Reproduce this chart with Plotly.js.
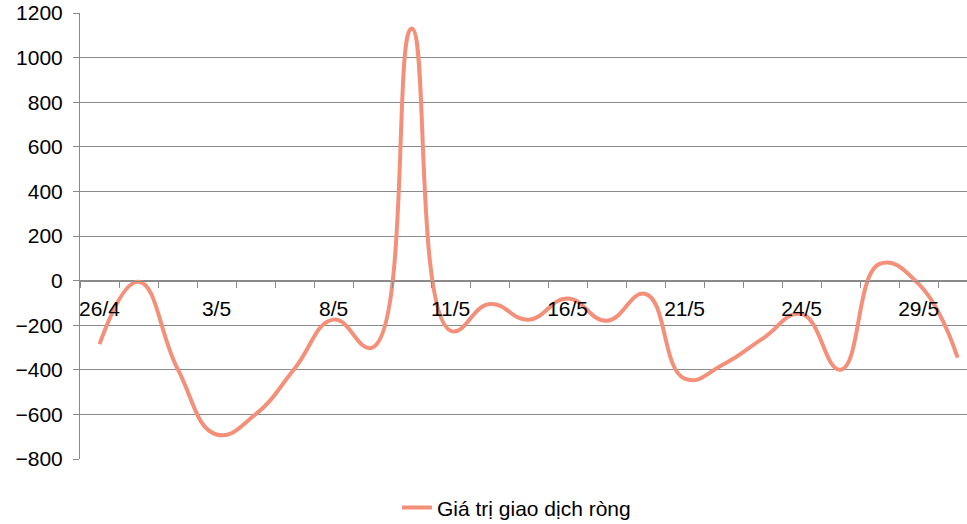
<!DOCTYPE html>
<html>
<head>
<meta charset="utf-8">
<script src="https://cdn.plot.ly/plotly-3.0.1.min.js"></script>
<style>
  html, body { margin: 0; padding: 0; background: #ffffff; }
  #chart { width: 967px; height: 524px; }
</style>
</head>
<body>
<div id="chart"></div>
<script>
// Trading days (category labels)
var dates = ['26/4','27/4','2/5','3/5','4/5','7/5','8/5','9/5','10/5','11/5','14/5','15/5',
             '16/5','17/5','18/5','21/5','22/5','23/5','24/5','25/5','28/5','29/5','30/5'];
// Net trading value (Giá trị giao dịch ròng)
var netValues = [-285, -5, -395, -690, -600, -395, -175, -300, 1130, -225, -105, -175,
                 -80, -180, -60, -440, -375, -260, -150, -400, 75, -15, -345];
// Dates that carry a visible tick label
var labelledDates = ['26/4','3/5','8/5','11/5','16/5','21/5','24/5','29/5'];
var seriesName = 'Giá trị giao dịch ròng';

var xIdx = dates.map(function (d, i) { return i; });
var tickVals = labelledDates.map(function (d) { return dates.indexOf(d); });

var FONT = 'Liberation Sans, Arial, sans-serif';
var GRID = '#8a8a8a';

var trace = {
  type: 'scatter',
  mode: 'lines',
  name: seriesName,
  x: xIdx,
  y: netValues,
  line: { color: '#F4907A', width: 4, shape: 'spline', smoothing: 1.3 },
  hoverinfo: 'x+y'
};

var layout = {
  width: 967,
  height: 524,
  margin: { l: 80, r: 0, t: 13, b: 65, pad: 0, autoexpand: false },
  paper_bgcolor: '#ffffff',
  plot_bgcolor: '#ffffff',
  font: { family: FONT, size: 21, color: '#000000' },
  showlegend: true,
  legend: {
    orientation: 'h',
    xref: 'container', yref: 'container',
    x: 0.4105, xanchor: 'left',
    y: 0.031, yanchor: 'middle',
    font: { family: FONT, size: 21, color: '#000000' },
    bgcolor: 'rgba(0,0,0,0)'
  },
  xaxis: {
    type: 'linear',
    range: [-0.5, 22.24],
    anchor: 'free',
    position: 0.4,
    showgrid: false,
    zeroline: false,
    showline: true,
    linecolor: GRID,
    linewidth: 1,
    tickmode: 'array',
    tickvals: tickVals,
    ticktext: labelledDates,
    ticks: 'outside',
    ticklen: 9,
    tickcolor: 'rgba(0,0,0,0)',
    tickfont: { family: FONT, size: 21, color: '#000000' },
    minor: { tick0: -0.5, dtick: 1, ticks: 'outside', ticklen: 6, tickcolor: GRID, tickwidth: 1, showgrid: false },
    fixedrange: true
  },
  yaxis: {
    range: [-800, 1200],
    dtick: 200,
    tick0: 0,
    showgrid: true,
    gridcolor: GRID,
    gridwidth: 1,
    zeroline: false,
    showline: true,
    linecolor: GRID,
    linewidth: 1,
    ticks: 'outside',
    ticklen: 6,
    tickcolor: GRID,
    tickfont: { family: FONT, size: 21, color: '#000000' },
    ticklabelstandoff: 6,
    fixedrange: true
  }
};

Plotly.newPlot('chart', [trace], layout, { displayModeBar: false, staticPlot: true });
</script>
</body>
</html>
